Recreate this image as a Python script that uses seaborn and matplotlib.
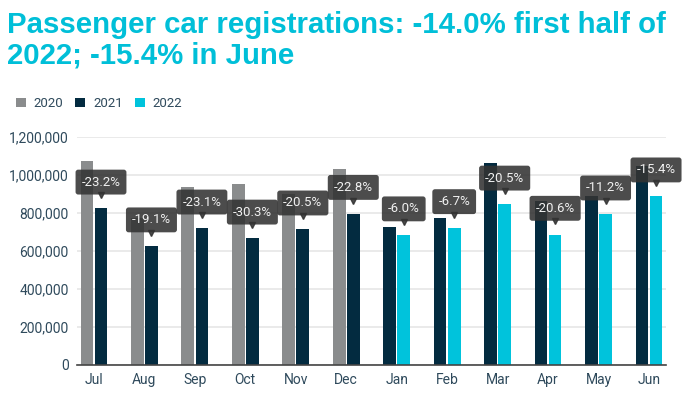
import pandas as pd
import matplotlib.pyplot as plt
import seaborn as sns
from matplotlib.patches import Patch
from matplotlib.ticker import FuncFormatter
from matplotlib.transforms import offset_copy

# Data
months = ["Jul", "Aug", "Sep", "Oct", "Nov", "Dec",
          "Jan", "Feb", "Mar", "Apr", "May", "Jun"]
prev_year = ["2020"] * 6 + ["2021"] * 6
curr_year = ["2021"] * 6 + ["2022"] * 6
prev_values = [1072000, 772000, 935000, 953000, 898000, 1031000,
               728000, 772000, 1063000, 864000, 890000, 1049000]
curr_values = [824000, 625000, 719000, 666000, 714000, 796000,
               683000, 721000, 845000, 686000, 793000, 888000]
changes = ["-23.2%", "-19.1%", "-23.1%", "-30.3%", "-20.5%", "-22.8%",
           "-6.0%", "-6.7%", "-20.5%", "-20.6%", "-11.2%", "-15.4%"]

colors = {"2020": "#8a8c8d", "2021": "#032b40", "2022": "#00c3dc"}
text_col = "#2f4a5c"

df = pd.DataFrame({
    "month": months * 2,
    "slot": ["prev"] * 12 + ["curr"] * 12,
    "year": prev_year + curr_year,
    "value": prev_values + curr_values,
})

sns.set_style("white")
plt.rcParams["font.family"] = ["Roboto", "DejaVu Sans"]

fig = plt.figure(figsize=(6.93, 3.95), dpi=100)
ax = fig.add_axes([0.111, 0.076, 0.850, 0.577])

sns.barplot(data=df, x="month", y="value", hue="slot", order=months,
            hue_order=["prev", "curr"], width=0.56, gap=0.1,
            legend=False, ax=ax, zorder=2)

# recolour each bar by its year
for cont, years in zip(ax.containers, [prev_year, curr_year]):
    for bar, yr in zip(cont, years):
        bar.set_facecolor(colors[yr])
        bar.set_edgecolor("none")

ax.set_ylim(0, 1200000)
ax.set_xlim(-0.337, 11.337)
ax.set_yticks(range(0, 1200001, 200000))
ax.yaxis.set_major_formatter(FuncFormatter(lambda v, p: f"{int(v):,}"))
ax.grid(axis="y", color="#e6e6e6", linewidth=1.2, zorder=0)
ax.set_axisbelow(True)
ax.set_xlabel("")
ax.set_ylabel("")
ax.tick_params(axis="both", length=0, labelsize=10, colors=text_col, pad=6)
for s in ["left", "right", "top"]:
    ax.spines[s].set_visible(False)
ax.spines["bottom"].set_color("#444444")
ax.spines["bottom"].set_linewidth(1.2)

# callout labels above the current-year bar
box_trans = offset_copy(ax.transData, fig=fig, y=19, units="points")
tip_trans = offset_copy(ax.transData, fig=fig, y=9.5, units="points")
for bar, lab in zip(ax.containers[1], changes):
    cx = bar.get_x() + bar.get_width() / 2
    top = bar.get_height()
    ax.text(cx, top, lab, transform=box_trans, ha="center", va="center",
            fontsize=9.5, color="#f0f0f0", zorder=5, clip_on=False,
            bbox=dict(boxstyle="round,pad=0.45,rounding_size=0.2",
                      fc="#333333", ec="none", alpha=0.88))
    ax.plot(cx, top, marker="v", markersize=5, color="#333333", alpha=0.88,
            transform=tip_trans, zorder=5, clip_on=False)

fig.text(0.010, 0.972, "Passenger car registrations: -14.0% first half of\n2022; -15.4% in June",
         ha="left", va="top", fontsize=21.2, fontweight="bold", color="#00bfd8",
         family=["Liberation Sans", "DejaVu Sans"], linespacing=1.1)

handles = [Patch(facecolor=colors[y], edgecolor="none", label=y)
           for y in ["2020", "2021", "2022"]]
leg = fig.legend(handles=handles, loc="center left", bbox_to_anchor=(0.006, 0.738),
                 ncol=3, frameon=False, handlelength=0.75, handleheight=0.75,
                 handletextpad=0.6, columnspacing=0.9, fontsize=9.5)
for t in leg.get_texts():
    t.set_color(text_col)

fig.savefig("out.png", dpi=100)
